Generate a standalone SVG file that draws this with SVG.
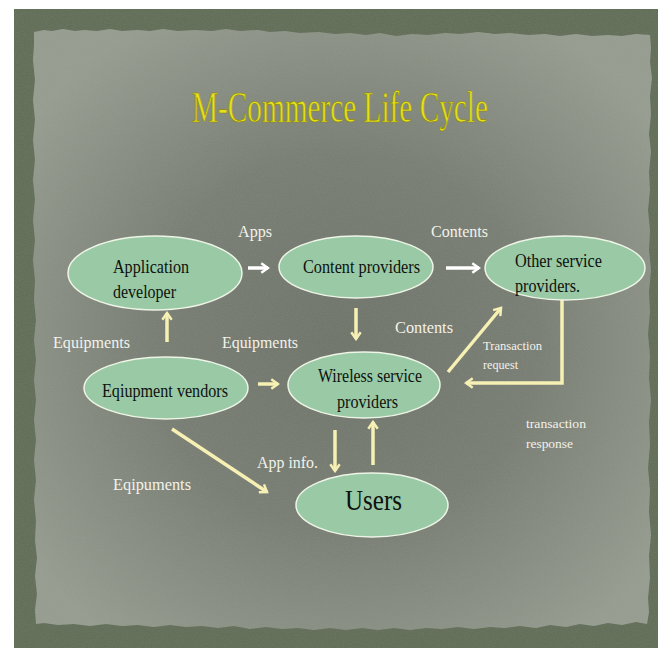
<svg xmlns="http://www.w3.org/2000/svg" width="672" height="655" viewBox="0 0 672 655">
<defs>
<style>
.node ellipse{fill:#9ac9a6;stroke:#eef4e6;stroke-width:1.5}
.nt{font-family:"Liberation Serif","Times New Roman",serif;fill:#0d120e;font-size:18px}
.lbl{font-family:"Liberation Serif","Times New Roman",serif;fill:#f2f2ea;font-size:17px}
.sm{font-size:13px}
.cw{fill:none;stroke:#ffffff;stroke-width:3.5;stroke-linecap:butt}
.cy{fill:none;stroke:#f6f0b4;stroke-width:3.5;stroke-linecap:butt}
</style>
<marker id="hw" viewBox="0 0 10 10" refX="8" refY="5" markerWidth="3.2" markerHeight="3.2" orient="auto" markerUnits="strokeWidth">
<path d="M2,0.8 L8,5 L2,9.2" fill="none" stroke="#ffffff" stroke-width="2.2"/>
</marker>
<marker id="hy" viewBox="0 0 10 10" refX="8" refY="5" markerWidth="3.2" markerHeight="3.2" orient="auto" markerUnits="strokeWidth">
<path d="M2,0.8 L8,5 L2,9.2" fill="none" stroke="#f6f0b4" stroke-width="2.2"/>
</marker>
<radialGradient id="paper" cx="0.5" cy="0.52" r="0.62">
<stop offset="0" stop-color="#6c7168"/>
<stop offset="0.5" stop-color="#767b71"/>
<stop offset="1" stop-color="#959b8f"/>
</radialGradient>
<filter id="tex" x="0" y="0" width="1" height="1">
<feTurbulence type="fractalNoise" baseFrequency="0.9" numOctaves="2" seed="3"/>
<feColorMatrix type="matrix" values="0 0 0 0 0.45  0 0 0 0 0.48  0 0 0 0 0.42  0 0 0 0.18 0"/>
<feComposite in2="SourceGraphic" operator="in"/>
</filter>
</defs>
<rect width="672" height="655" fill="#ffffff"/>
<rect x="14" y="9" width="644" height="639" fill="#5e6a54"/>
<rect x="14" y="9" width="644" height="639" fill="#000" filter="url(#tex)"/>
<path id="paperEdge" fill="url(#paper)" d="M34,32 L44,30 L52,31 L63,29 L75,31 L84,30 L97,31 L110,29 L122,31 L138,30 L150,31 L163,29 L178,31 L195,30 L212,31 L226,29 L240,31 L258,30 L270,32 L285,31 L300,33 L318,32 L335,34 L350,33 L366,35 L380,33 L396,36 L412,34 L428,35 L445,33 L460,34 L478,32 L495,34 L510,33 L528,35 L545,34 L560,36 L576,34 L592,36 L608,35 L622,36 L636,34 L650,35 L651,48 L650,62 L652,78 L650,96 L651,115 L649,134 L651,152 L649,172 L650,190 L648,210 L650,230 L649,250 L651,270 L649,292 L650,312 L648,334 L650,356 L649,378 L651,400 L649,422 L650,445 L648,468 L650,490 L649,512 L651,535 L649,556 L650,578 L648,598 L649,612 L647,624 L636,622 L622,625 L608,623 L594,626 L580,624 L566,627 L550,625 L536,628 L520,626 L505,628 L490,627 L474,629 L458,627 L442,629 L426,628 L410,630 L394,628 L378,630 L362,628 L346,630 L330,628 L314,630 L298,628 L282,629 L266,627 L250,629 L234,626 L218,628 L202,626 L186,627 L170,625 L154,627 L138,625 L122,626 L106,624 L90,626 L74,624 L58,625 L44,623 L36,624 L35,610 L37,594 L35,576 L37,558 L35,540 L36,520 L34,500 L36,480 L34,460 L36,440 L34,420 L36,400 L34,380 L36,360 L34,340 L36,320 L34,300 L35,280 L33,260 L35,240 L33,220 L35,200 L33,180 L35,160 L33,140 L35,120 L33,100 L35,80 L33,60 L34,45 Z"/>
<use href="#paperEdge" fill="#000" filter="url(#tex)"/>

<text x="192" y="122" textLength="296" lengthAdjust="spacingAndGlyphs" font-family="'Liberation Serif',serif" font-size="44" fill="#e4e01c" stroke="#8a8410" stroke-width="0.7">M-Commerce Life Cycle</text>

<g id="connectors">
<line class="cw" x1="248" y1="268" x2="268" y2="268" marker-end="url(#hw)"/>
<line class="cw" x1="446" y1="268" x2="479" y2="268" marker-end="url(#hw)"/>
<line class="cy" x1="356" y1="308" x2="356" y2="339" marker-end="url(#hy)"/>
<line class="cy" x1="167" y1="342" x2="167" y2="313" marker-end="url(#hy)"/>
<line class="cy" x1="258" y1="384" x2="278" y2="384" marker-end="url(#hy)"/>
<line class="cy" x1="448" y1="372" x2="501" y2="308" marker-end="url(#hy)"/>
<polyline class="cy" points="562,300 562,383 466,383" marker-end="url(#hy)"/>
<line class="cy" x1="335" y1="430" x2="335" y2="471" marker-end="url(#hy)"/>
<line class="cy" x1="373" y1="465" x2="373" y2="422" marker-end="url(#hy)"/>
<line class="cy" x1="172" y1="429" x2="267" y2="492" marker-end="url(#hy)"/>
</g>

<g id="appdev" class="node">
<ellipse cx="155" cy="273" rx="87" ry="37"/>
<text class="nt" x="113" y="273" textLength="76" lengthAdjust="spacingAndGlyphs">Application</text>
<text class="nt" x="113" y="298" textLength="63" lengthAdjust="spacingAndGlyphs">developer</text>
</g>
<g id="content" class="node">
<ellipse cx="356" cy="267" rx="77" ry="31"/>
<text class="nt" x="303" y="273" textLength="117" lengthAdjust="spacingAndGlyphs">Content providers</text>
</g>
<g id="other" class="node">
<ellipse cx="565" cy="268" rx="80" ry="32"/>
<text class="nt" x="515" y="267" textLength="87" lengthAdjust="spacingAndGlyphs">Other service</text>
<text class="nt" x="515" y="292" textLength="65" lengthAdjust="spacingAndGlyphs">providers.</text>
</g>
<g id="vendors" class="node">
<ellipse cx="166" cy="388" rx="82" ry="31"/>
<text class="nt" x="102" y="397" textLength="126" lengthAdjust="spacingAndGlyphs">Eqiupment vendors</text>
</g>
<g id="wireless" class="node">
<ellipse cx="364" cy="385" rx="76" ry="33"/>
<text class="nt" x="318" y="382" textLength="104" lengthAdjust="spacingAndGlyphs">Wireless service</text>
<text class="nt" x="337" y="408" textLength="61" lengthAdjust="spacingAndGlyphs">providers</text>
</g>
<g id="users" class="node">
<ellipse cx="372" cy="505" rx="76" ry="32"/>
<text class="nt" x="345" y="510" style="font-size:30px" textLength="57" lengthAdjust="spacingAndGlyphs">Users</text>
</g>

<g id="labels">
<text class="lbl" x="238" y="237" textLength="34" lengthAdjust="spacingAndGlyphs">Apps</text>
<text class="lbl" x="431" y="237" textLength="57" lengthAdjust="spacingAndGlyphs">Contents</text>
<text class="lbl" x="395" y="333" textLength="58" lengthAdjust="spacingAndGlyphs">Contents</text>
<text class="lbl" x="53" y="348" textLength="77" lengthAdjust="spacingAndGlyphs">Equipments</text>
<text class="lbl" x="222" y="348" textLength="76" lengthAdjust="spacingAndGlyphs">Equipments</text>
<text class="lbl sm" x="483" y="350" textLength="59" lengthAdjust="spacingAndGlyphs">Transaction</text>
<text class="lbl sm" x="483" y="369" textLength="35" lengthAdjust="spacingAndGlyphs">request</text>
<text class="lbl sm" x="526" y="428" textLength="60" lengthAdjust="spacingAndGlyphs">transaction</text>
<text class="lbl sm" x="526" y="448" textLength="47" lengthAdjust="spacingAndGlyphs">response</text>
<text class="lbl" x="257" y="468" textLength="61" lengthAdjust="spacingAndGlyphs">App info.</text>
<text class="lbl" x="113" y="490" textLength="78" lengthAdjust="spacingAndGlyphs">Eqipuments</text>
</g>
</svg>
